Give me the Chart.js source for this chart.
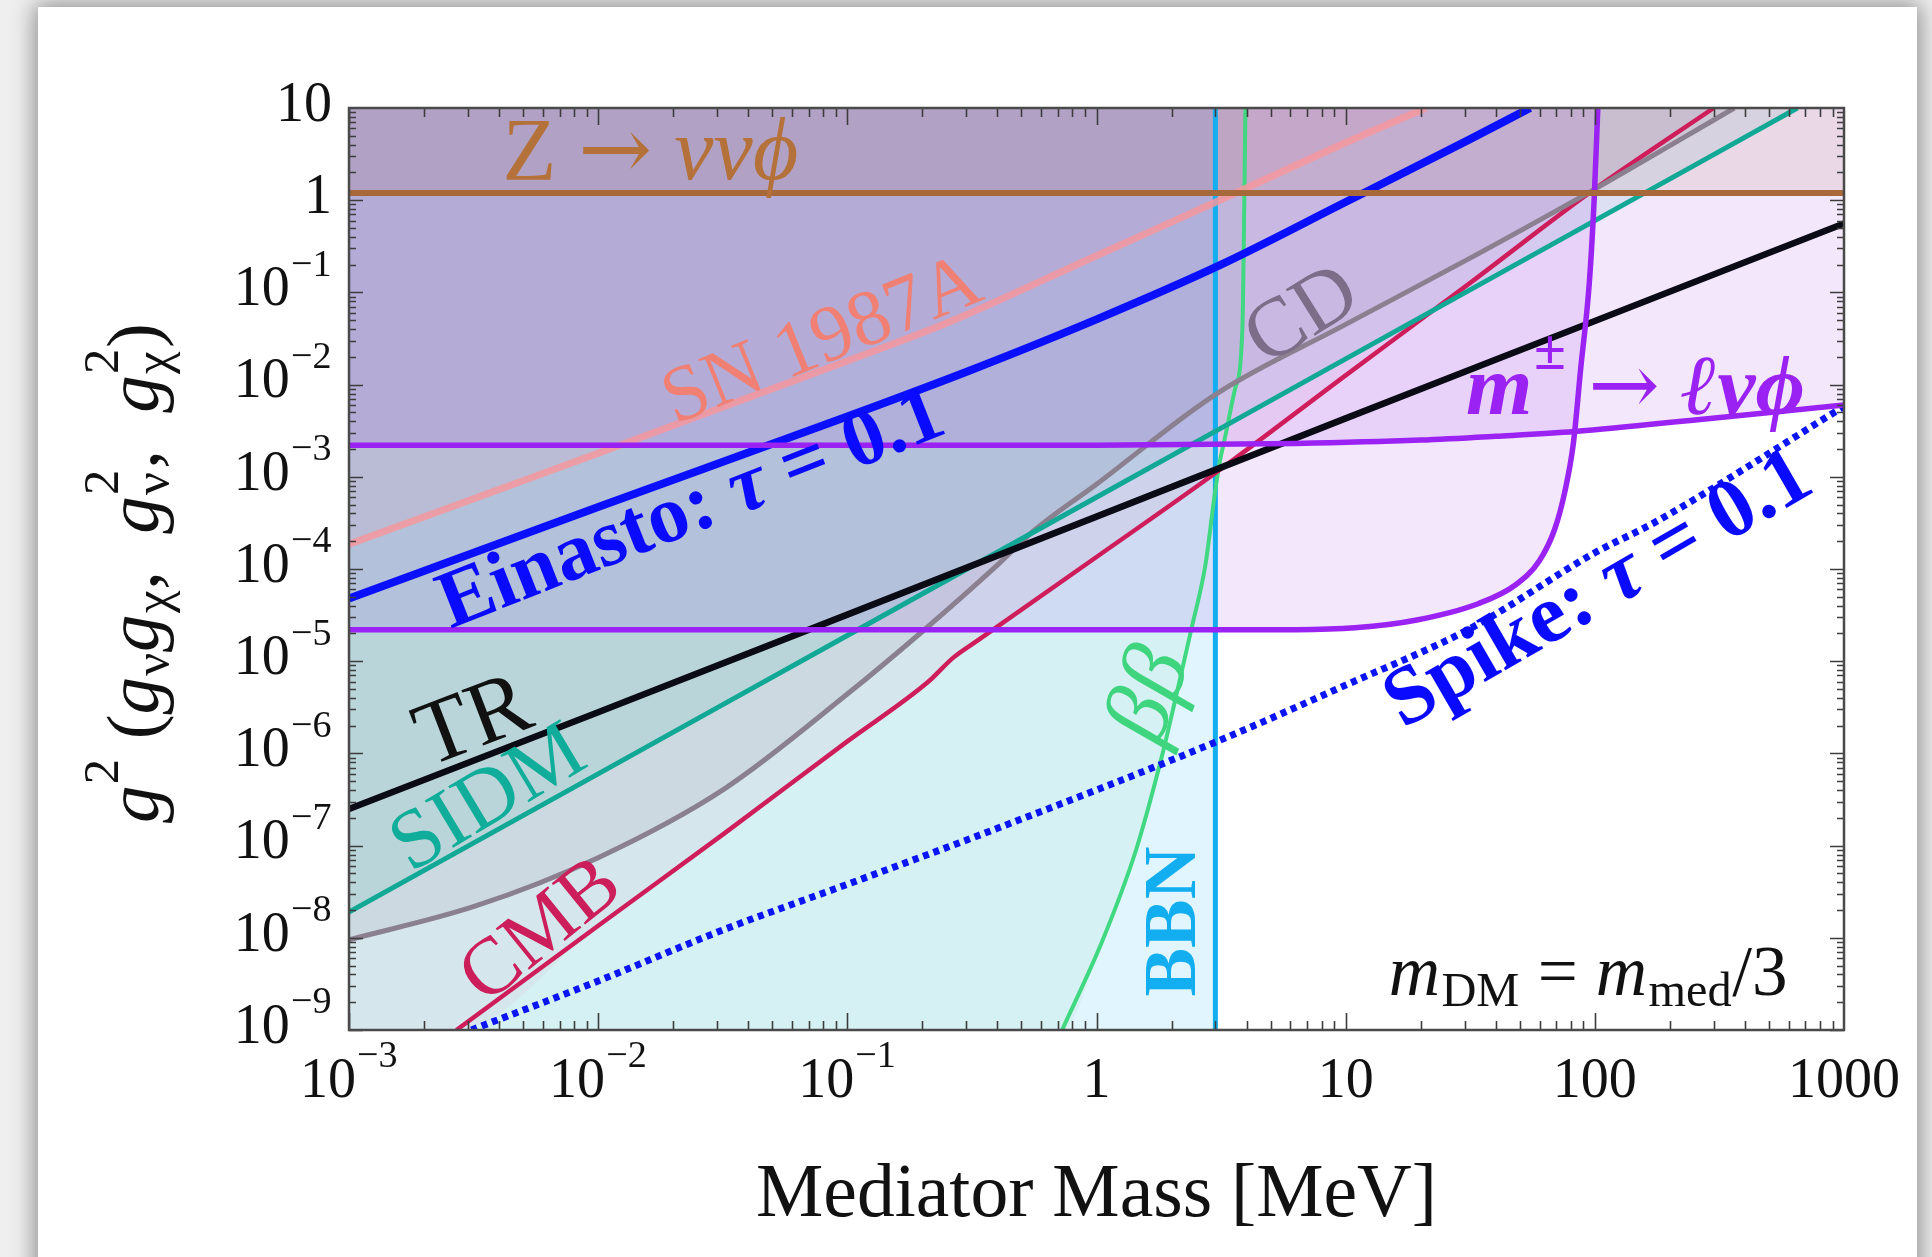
<!DOCTYPE html>
<html>
<head>
<meta charset="utf-8">
<script src="https://cdn.jsdelivr.net/npm/chart.js@4.4.1/dist/chart.umd.min.js"></script>
<style>
html,body{margin:0;padding:0;background:#efefef;overflow:hidden;}
#card{position:absolute;left:38px;top:7px;width:1879px;height:1300px;background:#fff;box-shadow:0 0 22px 3px rgba(0,0,0,0.42);}
#plot{position:absolute;left:0;top:0;}
</style>
</head>
<body>
<div id="card"></div>
<canvas id="plot" width="1932" height="1257"></canvas>
<script>
// axis range
const xMin = 1e-3, xMax = 1000;
const yMin = 1e-9, yMax = 10;

const xTickValues = [1e-3, 1e-2, 1e-1, 1, 10, 100, 1000];
const xTickLabels = [['10', '−3'], ['10', '−2'], ['10', '−1'], ['1', ''], ['10', ''], ['100', ''], ['1000', '']];
const yTickValues = [10, 1, 1e-1, 1e-2, 1e-3, 1e-4, 1e-5, 1e-6, 1e-7, 1e-8, 1e-9];
const yTickLabels = [['10', ''], ['1', ''], ['10', '−1'], ['10', '−2'], ['10', '−3'], ['10', '−4'],
  ['10', '−5'], ['10', '−6'], ['10', '−7'], ['10', '−8'], ['10', '−9']];

// limits: mediator mass [MeV] vs g^2
const zMass = [1e-3, 1000];
const zG2 = [1.2, 1.2];

const mesonLowMass = [1e-3, 1, 6.3, 10.9, 19.3, 34, 48, 60, 69, 75.7, 82, 87.7, 95, 99.5, 102.8];
const mesonLowG2 = [2.2e-5, 2.2e-5, 2.2e-5, 2.3e-5, 2.8e-5, 4.2e-5, 6.7e-5, 1.24e-4, 2.7e-4, 6.8e-4, 2.3e-3, 0.0147, 0.126, 1.09, 10];

const mesonHighMass = [1e-3, 1, 6.3, 20, 40, 83, 290, 1000];
const mesonHighG2 = [2.2e-3, 2.2e-3, 2.3e-3, 2.5e-3, 2.75e-3, 3.1e-3, 4.3e-3, 6e-3];

const bbnMass = [3, 3];
const bbnG2 = [1e-9, 10];

const betaMass = [0.728, 1.06, 1.44, 1.83, 2.07, 2.40, 2.73, 2.99, 3.1, 3.3, 3.6, 3.85, 3.92, 3.96];
const betaG2 = [1e-9, 9.5e-9, 8.9e-8, 9.3e-7, 3.8e-6, 2.2e-5, 1.07e-4, 6.8e-4, 1.3e-3, 2.9e-3, 9e-3, 0.04, 1, 10];

const cmbMass = [2.7e-3, 0.01, 0.032, 0.1, 0.21, 0.267, 0.336, 1, 3, 10, 32, 95, 300];
const cmbG2 = [1e-9, 1.35e-8, 1.35e-7, 1.35e-6, 5.9e-6, 1.1e-5, 1.7e-5, 1.35e-4, 1.1e-3, 1.26e-2, 0.13, 1.2, 10];

const cdMass = [1e-3, 3.2e-3, 0.01, 0.032, 0.1, 0.2, 0.4, 0.56, 1, 3, 10, 32, 100, 363];
const cdG2 = [9.5e-9, 2.2e-8, 7.4e-8, 4.1e-7, 4.4e-6, 2.1e-5, 1.1e-4, 2.6e-4, 8.3e-4, 7.8e-3, 0.045, 0.24, 1.32, 10];

const sidmMass = [1e-3, 0.01, 0.1, 1, 10, 100, 650];
const sidmG2 = [1.9e-8, 6e-7, 1.9e-5, 6e-4, 1.9e-2, 0.6, 10];

const trMass = [1e-3, 0.01, 0.1, 1, 10, 100, 1000];
const trG2 = [2.5e-7, 2.8e-6, 3.2e-5, 3.7e-4, 4.3e-3, 0.049, 0.56];

const snMass = [1e-3, 0.01, 0.1, 0.258, 1, 3, 10, 21];
const snG2 = [1.86e-4, 1.8e-3, 0.018, 0.048, 0.25, 0.95, 4.2, 10];

const einastoMass = [1e-3, 0.01, 0.1, 0.316, 1, 3.16, 10, 31.6, 55];
const einastoG2 = [4.8e-5, 4.7e-4, 4.5e-3, 0.0145, 0.051, 0.2, 0.955, 4.6, 10];

const spikeMass = [3.1e-3, 0.01, 0.032, 0.1, 0.39, 2.95, 10, 32, 100, 174, 1000];
const spikeG2 = [1e-9, 3.4e-9, 1.23e-8, 3.8e-8, 1.5e-7, 1.3e-6, 5.5e-6, 2.3e-5, 1.5e-4, 3.2e-4, 5.8e-3];

function pts(m, g) {
  return m.map((v, i) => ({ x: v, y: g[i] }));
}

function fillOnly(data, color, smooth) {
  return {
    data: data, borderWidth: 0, borderColor: 'rgba(0,0,0,0)', backgroundColor: color,
    fill: 'end', pointRadius: 0, clip: 0,
    cubicInterpolationMode: smooth ? 'monotone' : 'default'
  };
}

function curve(data, color, width, fillColor, smooth, dash) {
  return {
    data: data, borderColor: color, borderWidth: width,
    backgroundColor: fillColor || 'rgba(0,0,0,0)', fill: fillColor ? 'end' : false,
    pointRadius: 0, clip: 0, borderDash: dash || [],
    cubicInterpolationMode: smooth ? 'monotone' : 'default'
  };
}

// bottom to top
const layers = [
  fillOnly(pts([xMin, bbnMass[0]], [yMin, yMin]), 'rgba(0,174,239,0.12)', false),
  fillOnly(pts([xMin].concat(betaMass), [yMin].concat(betaG2)), 'rgba(87,194,125,0.08)', true),
  fillOnly(pts([xMin].concat(cmbMass), [yMin].concat(cmbG2)), 'rgba(204,30,90,0.05)', true),
  curve(pts(bbnMass, bbnG2), '#12aef0', 5, null, false),
  curve(pts(betaMass, betaG2), '#40d880', 4, null, true),
  curve(pts(cmbMass, cmbG2), '#cf1d5b', 4.5, null, true),
  curve(pts(cdMass, cdG2), '#8a8090', 5, 'rgba(128,112,128,0.12)', true),
  curve(pts(sidmMass, sidmG2), '#12a896', 5, 'rgba(16,173,154,0.10)', true),
  curve(pts(trMass, trG2), '#0b0b16', 6.5, null, true),
  curve(pts(snMass, snG2), 'rgba(246,152,158,0.85)', 7, 'rgba(240,128,128,0.08)', true),
  curve(pts(spikeMass, spikeG2), '#0a14f5', 7, null, true, [6, 5]),
  curve(pts(einastoMass, einastoG2), '#0a10ff', 8, null, true),
  curve(pts(mesonLowMass, mesonLowG2), '#9a22f2', 5.5, 'rgba(150,40,230,0.11)', true),
  curve(pts(mesonHighMass, mesonHighG2), '#9a22f2', 5.5, 'rgba(150,40,230,0.11)', true),
  curve(pts(zMass, zG2), '#a8693a', 6, 'rgba(139,69,19,0.09)', false)
];
layers.forEach((d, i) => { d.order = layers.length - i; });

const FAM = '"Liberation Serif", "DejaVu Serif", serif';

function fontOf(s, size) {
  const fam = s.fam ? '"' + s.fam + '", serif' : FAM;
  return (s.it ? 'italic ' : '') + (s.b ? 'bold ' : '') + size + 'px ' + fam;
}

function richWidth(ctx, segs, size) {
  let w = 0;
  const small = size * 0.68;
  segs.forEach(s => {
    ctx.font = fontOf(s, size);
    w += ctx.measureText(s.t).width;
    let extra = 0;
    if (s.sup) { ctx.font = fontOf({ b: s.b }, small); extra = Math.max(extra, ctx.measureText(s.sup).width); }
    if (s.sub) { ctx.font = fontOf({ b: s.b }, small); extra = Math.max(extra, ctx.measureText(s.sub).width); }
    if (extra) w += extra + size * 0.03;
  });
  return w;
}

function drawRich(ctx, segs, x, y, size, fit, align) {
  if (fit) size = size * fit / richWidth(ctx, segs, size);
  const w = richWidth(ctx, segs, size);
  const small = size * 0.68;
  let cx = align === 'right' ? x - w : x - w / 2;
  ctx.textAlign = 'left';
  ctx.textBaseline = 'middle';
  segs.forEach(s => {
    ctx.font = fontOf(s, size);
    ctx.fillText(s.t, cx, y);
    cx += ctx.measureText(s.t).width;
    let extra = 0;
    if (s.sup) {
      ctx.font = fontOf({ b: s.b }, small);
      ctx.fillText(s.sup, cx + size * 0.02, y - size * 0.44);
      extra = Math.max(extra, ctx.measureText(s.sup).width);
    }
    if (s.sub) {
      ctx.font = fontOf({ b: s.b }, small);
      ctx.fillText(s.sub, cx + size * 0.02, y + size * 0.24);
      extra = Math.max(extra, ctx.measureText(s.sub).width);
    }
    if (extra) cx += extra + size * 0.03;
  });
}

const annotations = [
  { x: 0.0162, y: 3.0, angle: 0, color: '#b5713a', size: 58, fit: 296,
    segs: [{ t: 'Z ' }, { t: '→', fam: 'DejaVu Serif' }, { t: ' ννϕ', it: true }] },
  { x: 0.0796, y: 0.0288, angle: -22, color: '#f08074', size: 60, fit: 336, segs: [{ t: 'SN 1987A' }] },
  { x: 0.0238, y: 4.27e-4, angle: -21.5, color: '#0a0aff', size: 58, fit: 536,
    segs: [{ t: 'Einasto: ', b: true }, { t: 'τ', it: true, b: true }, { t: ' = 0.1', b: true }] },
  { x: 6.75, y: 0.0537, angle: -32, color: '#7d6d88', size: 58, fit: 116, segs: [{ t: 'CD' }] },
  { x: 145.5, y: 8.4e-3, angle: 0, color: '#9a22f2', size: 58, fit: 339,
    segs: [{ t: 'm', it: true, b: true, sup: '±' }, { t: ' ' }, { t: '→', fam: 'DejaVu Serif' }, { t: ' ℓνϕ', it: true, b: true }] },
  { x: 104, y: 5.75e-5, angle: -30, color: '#0a0aff', size: 58, fit: 478,
    segs: [{ t: 'Spike: ', b: true }, { t: 'τ', it: true, b: true }, { t: ' = 0.1', b: true }] },
  { x: 3.18e-3, y: 2.1e-6, angle: -21, color: '#111111', size: 58, fit: 116, segs: [{ t: 'TR' }] },
  { x: 3.65e-3, y: 3.1e-7, angle: -31, color: '#10ad9a', size: 58, fit: 210, segs: [{ t: 'SIDM' }] },
  { x: 5.94e-3, y: 1.15e-8, angle: -39, color: '#cc1e5a', size: 58, fit: 180, segs: [{ t: 'CMB' }] },
  { x: 1.66, y: 4.2e-6, angle: -70, color: '#3fd57f', size: 54, fit: 92, segs: [{ t: 'ββ', it: true }] },
  { x: 2.09, y: 1.5e-8, angle: -90, color: '#12aef0', size: 54, fit: 150, segs: [{ t: 'BBN', b: true }] },
  { x: 94, y: 3.8e-9, angle: 0, color: '#111111', size: 58, fit: 399,
    segs: [{ t: 'm', it: true, sub: 'DM' }, { t: ' = ' }, { t: 'm', it: true, sub: 'med' }, { t: '/3' }] }
];

const decorations = {
  id: 'decorations',
  afterDraw(chart) {
    const ctx = chart.ctx, a = chart.chartArea;
    const sx = chart.scales.x, sy = chart.scales.y;
    ctx.save();

    // labels on the curves
    annotations.forEach(an => {
      ctx.save();
      ctx.translate(sx.getPixelForValue(an.x), sy.getPixelForValue(an.y));
      ctx.rotate(an.angle * Math.PI / 180);
      ctx.fillStyle = an.color;
      drawRich(ctx, an.segs, 0, 0, an.size, an.fit);
      ctx.restore();
    });

    // inward ticks on all four sides
    ctx.strokeStyle = '#3c3c3c';
    ctx.lineWidth = 1.6;
    ctx.beginPath();
    for (let e = -3; e < 3; e++) {
      for (let m = 1; m < 10; m++) {
        const px = Math.round(sx.getPixelForValue(m * Math.pow(10, e))) + 0.5;
        const len = m === 1 ? 17 : 9;
        ctx.moveTo(px, a.bottom); ctx.lineTo(px, a.bottom - len);
        ctx.moveTo(px, a.top); ctx.lineTo(px, a.top + len);
      }
    }
    for (let e = -9; e < 1; e++) {
      for (let m = 1; m < 10; m++) {
        const py = Math.round(sy.getPixelForValue(m * Math.pow(10, e))) + 0.5;
        const len = m === 1 ? 14 : 7;
        ctx.moveTo(a.left, py); ctx.lineTo(a.left + len, py);
        ctx.moveTo(a.right, py); ctx.lineTo(a.right - len, py);
      }
    }
    ctx.stroke();

    // frame
    ctx.strokeStyle = '#4a4a4a';
    ctx.lineWidth = 2.5;
    ctx.strokeRect(a.left, a.top, a.right - a.left, a.bottom - a.top);

    // tick labels
    ctx.fillStyle = '#111111';
    xTickValues.forEach((v, i) => {
      const lab = xTickLabels[i];
      drawRich(ctx, [{ t: lab[0], sup: lab[1] }], sx.getPixelForValue(v), 1082, 56);
    });
    yTickValues.forEach((v, i) => {
      const lab = yTickLabels[i];
      drawRich(ctx, [{ t: lab[0], sup: lab[1] }], 332, sy.getPixelForValue(v) - 2, 56, null, 'right');
    });

    // axis titles
    drawRich(ctx, [{ t: 'Mediator Mass [MeV]' }], (a.left + a.right) / 2, 1196, 76, 681);
    ctx.save();
    ctx.translate(138, 573);
    ctx.rotate(-Math.PI / 2);
    drawRich(ctx, [
      { t: 'g', it: true, sup: '2' }, { t: ' (' },
      { t: 'g', it: true, sub: 'ν' }, { t: 'g', it: true, sub: 'χ' }, { t: ',  ' },
      { t: 'g', it: true, sub: 'ν', sup: '2' }, { t: ',  ' },
      { t: 'g', it: true, sub: 'χ', sup: '2' }, { t: ')' }
    ], 0, 0, 66, 500);
    ctx.restore();

    ctx.restore();
  }
};

new Chart(document.getElementById('plot').getContext('2d'), {
  type: 'line',
  data: { datasets: layers },
  options: {
    responsive: false,
    animation: false,
    devicePixelRatio: 1,
    layout: { padding: { left: 349, top: 108, right: 88, bottom: 227 } },
    scales: {
      x: { type: 'logarithmic', min: xMin, max: xMax, display: false },
      y: { type: 'logarithmic', min: yMin, max: yMax, display: false }
    },
    plugins: {
      legend: { display: false },
      tooltip: { enabled: false },
      filler: { drawTime: 'beforeDatasetsDraw' }
    },
    elements: { point: { radius: 0 } }
  },
  plugins: [decorations]
});
</script>
</body>
</html>
